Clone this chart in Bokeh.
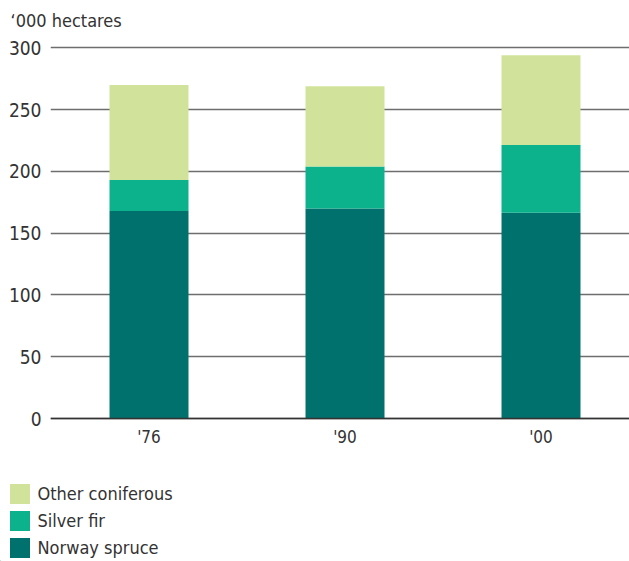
from bokeh.plotting import figure
from bokeh.models import (ColumnDataSource, Range1d, FixedTicker, Span,
                          Legend, LegendItem)
from bokeh.embed import file_html
from bokeh.resources import INLINE

# Coniferous forest area by species, thousand hectares
years = ["'76", "'90", "'00"]
norway_spruce = [168, 170, 166.5]
silver_fir = [25, 34, 55]
other_coniferous = [77, 65, 72.5]

series = ["Norway spruce", "Silver fir", "Other coniferous"]
colors = ["#00716d", "#0bb28c", "#d1e39b"]
y_ticks = [0, 50, 100, 150, 200, 250, 300]

FONT = "DejaVu Sans Condensed"
TEXT = "#333333"

src = ColumnDataSource(dict(
    x=list(range(len(years))),
    norway=norway_spruce,
    silver=silver_fir,
    other=other_coniferous,
))

p = figure(width=629, height=470, output_backend="svg", toolbar_location=None,
           x_range=Range1d(-0.5026, 2.4515), y_range=Range1d(-2.41, 306.0),
           min_border_left=50, min_border_right=0, min_border_top=40,
           min_border_bottom=49, outline_line_color=None,
           title="\u2018000 hectares")

p.vbar_stack(["norway", "silver", "other"], x="x", width=0.403,
             color=colors, line_color=None, source=src)

# title placed at the top-left corner
p.title.align = "left"
p.title.vertical_align = "top"
p.title.offset = -40
p.title.text_font = FONT
p.title.text_font_size = "18px"
p.title.text_font_style = "normal"
p.title.text_color = TEXT
p.title.standoff = 16

# category axis
xa = p.xaxis[0]
xa.ticker = FixedTicker(ticks=list(range(len(years))))
xa.major_label_overrides = {i: y for i, y in enumerate(years)}
xa.axis_line_color = None
xa.major_tick_line_color = None
xa.minor_tick_line_color = None
xa.major_tick_out = 0
xa.major_tick_in = 0
xa.minor_tick_out = 0
xa.major_label_text_font = FONT
xa.major_label_text_font_size = "17px"
xa.major_label_text_color = TEXT
xa.major_label_standoff = 5

# value axis
ya = p.yaxis[0]
ya.ticker = FixedTicker(ticks=y_ticks)
ya.axis_line_color = None
ya.major_tick_line_color = None
ya.minor_tick_line_color = None
ya.major_tick_out = 0
ya.major_tick_in = 0
ya.minor_tick_out = 0
ya.major_label_text_font = FONT
ya.major_label_text_font_size = "19px"
ya.major_label_text_color = TEXT
ya.major_label_standoff = 9

p.xgrid.grid_line_color = None
p.ygrid.ticker = FixedTicker(ticks=y_ticks)
p.ygrid.grid_line_color = "#6e6e6e"
p.ygrid.grid_line_width = 1.3
p.ygrid.level = "underlay"

p.add_layout(Span(location=0, dimension="width", line_color="#333333",
                  line_width=1.5))

# legend strip rendered as its own root below the chart
lg = figure(width=629, height=91, output_backend="svg", toolbar_location=None,
            x_range=Range1d(0, 629), y_range=Range1d(0, 91),
            x_axis_location=None, y_axis_location=None,
            min_border=0, min_border_left=0, min_border_right=0,
            min_border_top=0, min_border_bottom=0, outline_line_color=None)
lg.grid.visible = False

# swatch renderers sit outside the visible range; only their legend glyphs show
swatch = ColumnDataSource(dict(x=[-1000], top=[1]))
items = []
for name, col in zip(series, colors):
    r = lg.vbar(x="x", top="top", width=1, color=col, line_color=None,
                source=swatch)
    items.append(LegendItem(label=name, renderers=[r]))
items = items[::-1]

legend = Legend(items=items, location=(6.5, 1), orientation="vertical",
                glyph_width=25, glyph_height=25, spacing=2, padding=0,
                margin=0, label_standoff=6, label_height=25,
                label_text_font=FONT, label_text_font_size="18px",
                label_text_color=TEXT, border_line_color=None,
                background_fill_alpha=0)
lg.add_layout(legend, "center")

open("out.html", "w").write(file_html([p, lg], INLINE))
